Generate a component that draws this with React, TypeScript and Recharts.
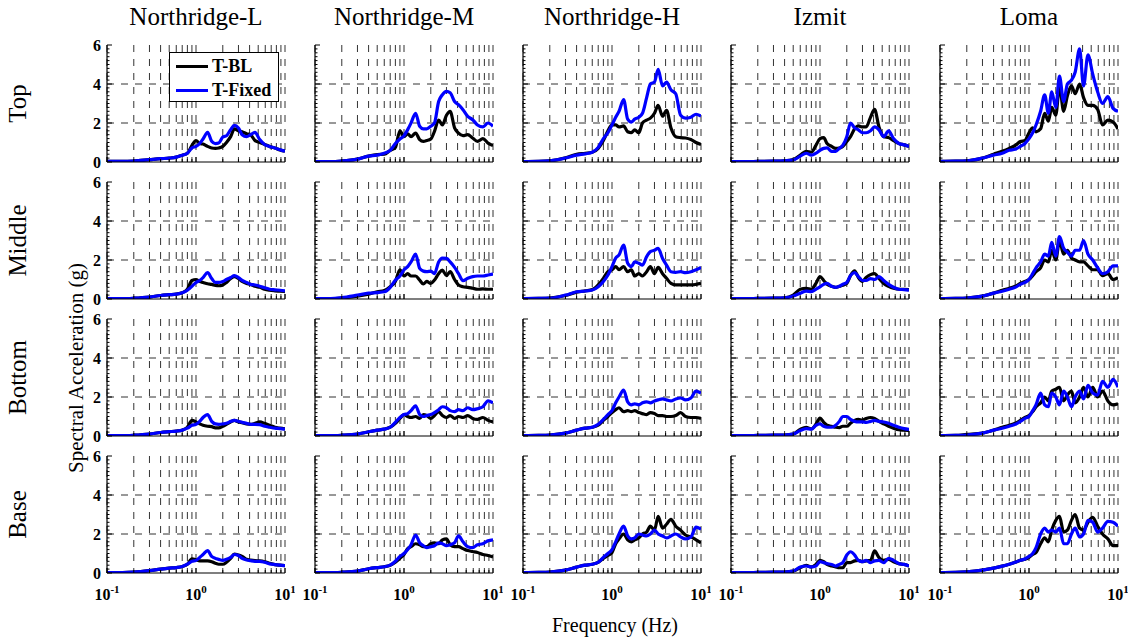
import React from 'react'
import { LineChart, Line, XAxis, YAxis, CartesianGrid } from 'recharts'

const FONT = '"Liberation Serif", "Times New Roman", Times, serif'

// frequency samples (Hz)
const FREQ = [0.1, 0.15, 0.2, 0.3, 0.4, 0.5, 0.6, 0.7, 0.8, 0.9, 1.0, 1.1, 1.2, 1.35, 1.5, 1.65, 1.8, 2.0, 2.2, 2.45, 2.7, 3.0, 3.3, 3.7, 4.1, 4.6, 5.2, 5.9, 6.7, 7.7, 8.8, 10]

const COLUMNS = ['Northridge-L', 'Northridge-M', 'Northridge-H', 'Izmit', 'Loma']
const ROWS = ['Top', 'Middle', 'Bottom', 'Base']
const SERIES = ['T-BL', 'T-Fixed']
const COLORS = ['#000000', '#0000ff']

const X_TICKS = [0.1, 0.2, 0.3, 0.4, 0.5, 0.6, 0.7, 0.8, 0.9, 1, 2, 3, 4, 5, 6, 7, 8, 9, 10]
const X_DECADES = [0.1, 1, 10]
const X_EXP = ['-1', '0', '1']
const Y_TICKS = [0, 0.2, 0.4, 0.6, 0.8, 1, 1.2, 1.4, 1.6, 1.8, 2, 2.2, 2.4, 2.6, 2.8, 3, 3.2, 3.4, 3.6, 3.8, 4, 4.2, 4.4, 4.6, 4.8, 5, 5.2, 5.4, 5.6, 5.8, 6]
const Y_MAJOR = [0, 2, 4, 6]
const GRID_Y = [2, 4]

// Top row
const topNL_BL = [0.03, 0.03, 0.05, 0.12, 0.17, 0.2, 0.25, 0.35, 0.45, 0.85, 1.1, 0.95, 0.92, 0.8, 0.72, 0.7, 0.72, 0.8, 1.0, 1.3, 1.7, 1.6, 1.55, 1.45, 1.4, 1.1, 1.0, 0.9, 0.8, 0.72, 0.62, 0.55]
const topNL_FX = [0.03, 0.03, 0.05, 0.12, 0.17, 0.2, 0.25, 0.35, 0.45, 0.72, 0.8, 0.95, 1.18, 1.52, 1.06, 0.94, 0.97, 1.28, 1.35, 1.66, 1.88, 1.74, 1.4, 1.3, 1.4, 1.52, 1.15, 0.9, 0.8, 0.72, 0.63, 0.55]
const topNM_BL = [0.02, 0.02, 0.05, 0.15, 0.3, 0.38, 0.4, 0.6, 0.75, 1.6, 1.3, 1.45, 1.3, 1.48, 1.15, 1.06, 1.1, 1.18, 1.57, 2.15, 1.9, 2.4, 2.6, 1.75, 1.48, 1.35, 1.4, 1.23, 1.06, 1.2, 0.97, 0.84]
const topNM_FX = [0.02, 0.02, 0.05, 0.15, 0.3, 0.35, 0.45, 0.6, 0.95, 1.18, 1.35, 1.66, 2.0, 2.5, 1.83, 1.7, 1.7, 1.83, 2.0, 3.1, 3.45, 3.62, 3.55, 3.1, 2.94, 2.68, 2.34, 2.17, 1.9, 1.8, 2.0, 1.83]
const topNH_BL = [0.02, 0.03, 0.06, 0.22, 0.4, 0.45, 0.5, 0.7, 1.1, 1.6, 1.9, 1.9, 1.8, 1.85, 1.55, 1.5, 1.65, 1.5, 2.0, 2.15, 2.25, 2.5, 2.9, 2.35, 2.65, 1.74, 1.3, 1.25, 1.23, 1.15, 1.0, 0.9]
const topNH_FX = [0.02, 0.03, 0.06, 0.2, 0.35, 0.42, 0.5, 0.75, 1.2, 1.5, 1.9, 2.3, 2.6, 3.2, 2.2, 2.05, 2.2, 2.3, 2.5, 3.3, 4.0, 4.1, 4.75, 3.9, 4.1, 3.7, 3.5, 2.4, 2.25, 2.3, 2.45, 2.35]
const topIZ_BL = [0.02, 0.02, 0.03, 0.04, 0.06, 0.12, 0.35, 0.55, 0.5, 0.85, 1.2, 1.25, 0.95, 0.8, 0.7, 0.72, 0.8, 1.05, 1.3, 1.7, 1.85, 1.8, 1.8, 2.3, 2.7, 1.8, 1.3, 1.25, 1.1, 0.95, 0.88, 0.8]
const topIZ_FX = [0.02, 0.02, 0.03, 0.04, 0.06, 0.1, 0.3, 0.45, 0.35, 0.45, 0.6, 0.7, 0.72, 0.55, 0.55, 0.7, 0.85, 1.3, 2.0, 1.75, 1.65, 1.5, 1.5, 1.6, 1.8, 1.65, 1.3, 1.6, 1.2, 0.95, 0.88, 0.8]
const topLO_BL = [0.03, 0.04, 0.06, 0.2, 0.4, 0.55, 0.7, 0.85, 1.05, 1.1, 1.5, 1.75, 1.55, 1.7, 2.5, 2.1, 2.8, 2.4, 3.9, 2.6, 3.4, 3.9, 3.5, 4.0, 3.3, 2.9, 2.9, 2.7, 1.9, 2.15, 2.05, 1.7]
const topLO_FX = [0.03, 0.04, 0.06, 0.2, 0.35, 0.45, 0.6, 0.65, 0.8, 0.95, 1.2, 1.5, 1.9, 2.6, 3.45, 2.5, 3.6, 2.8, 4.4, 3.1, 4.0, 4.2, 4.6, 5.8, 3.9, 5.5, 4.5, 3.6, 3.0, 3.35, 2.75, 2.6]

// Middle row
const midNL_BL = [0.02, 0.02, 0.04, 0.1, 0.18, 0.22, 0.25, 0.32, 0.5, 0.95, 1.0, 0.9, 0.85, 0.78, 0.75, 0.7, 0.68, 0.72, 0.85, 1.05, 1.15, 1.05, 0.9, 0.8, 0.75, 0.65, 0.6, 0.5, 0.45, 0.42, 0.4, 0.38]
const midNL_FX = [0.02, 0.02, 0.04, 0.1, 0.18, 0.22, 0.25, 0.32, 0.45, 0.65, 0.85, 0.95, 1.1, 1.35, 1.05, 0.85, 0.85, 0.9, 1.0, 1.1, 1.2, 1.1, 0.95, 0.85, 0.75, 0.72, 0.65, 0.58, 0.5, 0.47, 0.45, 0.42]
const midNM_BL = [0.02, 0.02, 0.05, 0.15, 0.25, 0.37, 0.43, 0.63, 0.9, 1.5, 1.18, 1.3, 1.18, 1.18, 0.97, 0.77, 0.9, 0.8, 0.97, 1.3, 1.48, 1.2, 1.4, 1.0, 0.72, 0.63, 0.6, 0.55, 0.5, 0.52, 0.5, 0.5]
const midNM_FX = [0.02, 0.02, 0.07, 0.2, 0.3, 0.33, 0.37, 0.6, 0.97, 1.18, 1.5, 1.66, 1.9, 2.3, 1.57, 1.43, 1.4, 1.43, 1.3, 1.9, 2.1, 2.08, 1.9, 1.62, 1.3, 0.94, 1.06, 1.15, 1.18, 1.18, 1.23, 1.28]
const midNH_BL = [0.02, 0.03, 0.05, 0.18, 0.35, 0.42, 0.48, 0.72, 1.06, 1.4, 1.5, 1.66, 1.5, 1.66, 1.4, 1.5, 1.18, 1.3, 1.18, 1.4, 1.66, 1.3, 1.62, 1.3, 1.06, 0.8, 0.72, 0.72, 0.72, 0.72, 0.75, 0.8]
const midNH_FX = [0.02, 0.03, 0.04, 0.2, 0.37, 0.41, 0.46, 0.63, 0.9, 1.23, 1.66, 2.1, 2.26, 2.77, 1.83, 1.66, 1.9, 1.83, 1.74, 2.17, 2.43, 2.5, 2.6, 2.08, 1.74, 1.4, 1.37, 1.4, 1.35, 1.4, 1.5, 1.62]
const midIZ_BL = [0.02, 0.02, 0.03, 0.04, 0.06, 0.2, 0.5, 0.55, 0.5, 0.8, 1.15, 0.95, 0.75, 0.65, 0.6, 0.65, 0.7, 0.8, 1.2, 1.45, 1.1, 0.9, 1.1, 1.25, 1.3, 1.05, 0.8, 0.65, 0.55, 0.5, 0.5, 0.48]
const midIZ_FX = [0.02, 0.02, 0.03, 0.04, 0.06, 0.15, 0.3, 0.4, 0.38, 0.5, 0.62, 0.75, 0.8, 0.65, 0.6, 0.65, 0.75, 0.85, 1.2, 1.35, 1.15, 0.95, 0.95, 1.05, 1.0, 1.15, 0.95, 0.75, 0.6, 0.5, 0.48, 0.45]
const midLO_BL = [0.02, 0.03, 0.05, 0.15, 0.3, 0.45, 0.55, 0.65, 0.8, 0.9, 1.0, 1.2, 1.4, 1.6, 2.0, 1.9, 2.5, 2.0, 3.0, 2.3, 2.5, 2.1, 2.0, 1.9, 1.9, 1.7, 1.5, 1.5, 1.2, 1.3, 1.0, 1.1]
const midLO_FX = [0.02, 0.03, 0.05, 0.15, 0.3, 0.4, 0.5, 0.6, 0.75, 0.85, 1.0, 1.3, 1.6, 1.9, 2.3, 2.2, 2.9, 2.2, 3.2, 2.6, 2.4, 2.2, 2.5, 2.5, 3.0, 2.3, 2.0, 1.6, 1.3, 1.4, 1.7, 1.7]

// Bottom row
const botNL_BL = [0.02, 0.02, 0.04, 0.1, 0.18, 0.22, 0.25, 0.3, 0.45, 0.8, 0.72, 0.62, 0.55, 0.5, 0.48, 0.42, 0.42, 0.5, 0.6, 0.72, 0.8, 0.72, 0.68, 0.62, 0.6, 0.65, 0.72, 0.65, 0.55, 0.45, 0.4, 0.36]
const botNL_FX = [0.02, 0.02, 0.04, 0.1, 0.18, 0.22, 0.25, 0.3, 0.4, 0.55, 0.6, 0.75, 0.95, 1.1, 0.75, 0.62, 0.6, 0.62, 0.65, 0.75, 0.8, 0.75, 0.7, 0.65, 0.6, 0.6, 0.58, 0.5, 0.45, 0.4, 0.38, 0.35]
const botNM_BL = [0.02, 0.02, 0.04, 0.1, 0.22, 0.3, 0.35, 0.45, 0.65, 0.9, 1.1, 1.0, 0.95, 1.0, 0.9, 1.1, 1.05, 0.9, 1.05, 1.25, 1.05, 0.95, 1.05, 0.9, 1.0, 0.95, 1.05, 0.9, 0.85, 0.95, 0.8, 0.72]
const botNM_FX = [0.02, 0.02, 0.04, 0.1, 0.22, 0.3, 0.35, 0.45, 0.7, 0.95, 1.1, 1.15, 1.3, 1.55, 1.1, 1.0, 1.05, 1.1, 1.2, 1.35, 1.5, 1.45, 1.3, 1.25, 1.35, 1.3, 1.45, 1.35, 1.4, 1.5, 1.8, 1.7]
const botNH_BL = [0.02, 0.03, 0.05, 0.15, 0.3, 0.4, 0.45, 0.55, 0.8, 1.0, 1.2, 1.35, 1.45, 1.25, 1.3, 1.25, 1.3, 1.2, 1.15, 1.1, 1.2, 1.15, 1.05, 1.05, 1.0, 1.0, 1.05, 1.2, 1.0, 0.95, 0.95, 0.9]
const botNH_FX = [0.02, 0.03, 0.05, 0.15, 0.3, 0.4, 0.45, 0.6, 0.85, 1.1, 1.3, 1.7, 2.0, 2.35, 1.75, 1.6, 1.65, 1.6, 1.7, 1.75, 1.7, 1.8, 1.85, 1.9, 1.85, 1.8, 1.9, 1.95, 1.85, 1.95, 2.3, 2.2]
const botIZ_BL = [0.02, 0.02, 0.03, 0.04, 0.05, 0.1, 0.34, 0.45, 0.36, 0.6, 0.92, 0.7, 0.55, 0.5, 0.45, 0.43, 0.5, 0.5, 0.65, 0.8, 0.85, 0.82, 0.9, 0.95, 0.9, 0.75, 0.62, 0.5, 0.4, 0.32, 0.3, 0.28]
const botIZ_FX = [0.02, 0.02, 0.03, 0.04, 0.05, 0.1, 0.28, 0.38, 0.35, 0.55, 0.62, 0.5, 0.45, 0.45, 0.55, 0.75, 1.0, 1.0, 0.85, 0.75, 0.72, 0.72, 0.7, 0.75, 0.8, 0.75, 0.72, 0.65, 0.55, 0.45, 0.38, 0.34]
const botLO_BL = [0.02, 0.03, 0.08, 0.15, 0.3, 0.45, 0.55, 0.65, 0.8, 0.95, 1.05, 1.25, 1.5, 1.7, 2.0, 1.8, 2.3, 2.4, 2.5, 1.8, 2.1, 2.3, 1.7, 2.0, 2.5, 2.0, 2.5, 2.0, 2.3, 1.8, 1.6, 1.65]
const botLO_FX = [0.02, 0.03, 0.05, 0.15, 0.3, 0.4, 0.5, 0.6, 0.75, 0.9, 1.0, 1.3, 1.6, 2.2, 1.6, 1.5, 2.2, 2.0, 1.6, 2.3, 2.0, 1.5, 2.0, 2.3, 1.9, 2.6, 2.2, 2.1, 2.8, 2.5, 2.9, 2.5]

// Base row
const basNL_BL = [0.02, 0.02, 0.04, 0.12, 0.2, 0.25, 0.28, 0.33, 0.45, 0.72, 0.68, 0.62, 0.62, 0.62, 0.58, 0.5, 0.45, 0.45, 0.55, 0.75, 0.97, 0.92, 0.85, 0.7, 0.66, 0.63, 0.62, 0.58, 0.5, 0.43, 0.4, 0.38]
const basNL_FX = [0.02, 0.02, 0.04, 0.12, 0.2, 0.25, 0.28, 0.33, 0.45, 0.6, 0.65, 0.8, 0.95, 1.15, 0.85, 0.75, 0.7, 0.65, 0.7, 0.8, 0.95, 0.9, 0.75, 0.67, 0.63, 0.6, 0.6, 0.55, 0.47, 0.43, 0.4, 0.38]
const basNM_BL = [0.02, 0.02, 0.04, 0.1, 0.22, 0.28, 0.32, 0.4, 0.55, 0.75, 0.95, 1.25, 1.35, 1.5, 1.45, 1.35, 1.35, 1.5, 1.55, 1.5, 1.7, 1.75, 1.45, 1.35, 1.35, 1.25, 1.15, 1.1, 1.05, 0.95, 0.9, 0.82]
const basNM_FX = [0.02, 0.02, 0.04, 0.1, 0.22, 0.28, 0.32, 0.4, 0.6, 0.85, 1.0, 1.2, 1.45, 1.95, 1.55, 1.4, 1.3, 1.35, 1.4, 1.55, 1.5, 1.4, 1.45, 1.55, 1.9, 1.6, 1.35, 1.3, 1.45, 1.5, 1.65, 1.7]
const basNH_BL = [0.02, 0.03, 0.05, 0.15, 0.3, 0.4, 0.45, 0.55, 0.75, 0.9, 1.05, 1.5, 1.75, 2.0, 1.7, 1.6, 1.7, 1.8, 2.0, 2.1, 2.4, 2.2, 2.9, 2.3, 2.5, 2.75, 2.4, 2.2, 1.95, 1.85, 1.7, 1.55]
const basNH_FX = [0.02, 0.03, 0.05, 0.15, 0.3, 0.4, 0.45, 0.55, 0.8, 1.0, 1.2, 1.6, 2.0, 2.4, 1.9, 1.75, 1.8, 2.0, 1.95, 1.9, 2.0, 2.2, 2.0, 1.9, 1.8, 1.9, 2.0, 1.85, 1.75, 1.85, 2.35, 2.25]
const basIZ_BL = [0.02, 0.02, 0.03, 0.04, 0.05, 0.1, 0.27, 0.39, 0.31, 0.44, 0.65, 0.58, 0.44, 0.36, 0.31, 0.27, 0.27, 0.53, 0.53, 0.62, 0.65, 0.58, 0.62, 0.65, 1.13, 0.79, 0.65, 0.7, 0.58, 0.48, 0.44, 0.36]
const basIZ_FX = [0.02, 0.02, 0.03, 0.04, 0.05, 0.1, 0.31, 0.36, 0.31, 0.36, 0.58, 0.53, 0.48, 0.44, 0.36, 0.44, 0.53, 0.92, 1.09, 0.92, 0.65, 0.58, 0.65, 0.53, 0.62, 0.65, 0.53, 0.75, 0.65, 0.48, 0.44, 0.36]
const basLO_BL = [0.02, 0.03, 0.06, 0.15, 0.25, 0.35, 0.45, 0.55, 0.65, 0.7, 0.8, 0.95, 1.05, 1.5, 1.8, 1.6, 2.2, 2.7, 2.9, 2.1, 2.2, 2.7, 3.0, 2.3, 2.2, 2.6, 2.85, 2.4, 2.0, 1.75, 1.4, 1.4]
const basLO_FX = [0.02, 0.03, 0.06, 0.15, 0.25, 0.35, 0.45, 0.55, 0.65, 0.72, 0.85, 1.0, 1.3, 2.0, 2.3, 2.1, 2.2, 2.1, 2.3, 1.5, 1.5, 2.0, 2.3, 1.85, 2.0, 2.7, 2.6, 2.1, 2.3, 2.65, 2.6, 2.4]

const PANELS = [
  [[topNL_BL, topNL_FX], [topNM_BL, topNM_FX], [topNH_BL, topNH_FX], [topIZ_BL, topIZ_FX], [topLO_BL, topLO_FX]],
  [[midNL_BL, midNL_FX], [midNM_BL, midNM_FX], [midNH_BL, midNH_FX], [midIZ_BL, midIZ_FX], [midLO_BL, midLO_FX]],
  [[botNL_BL, botNL_FX], [botNM_BL, botNM_FX], [botNH_BL, botNH_FX], [botIZ_BL, botIZ_FX], [botLO_BL, botLO_FX]],
  [[basNL_BL, basNL_FX], [basNM_BL, basNM_FX], [basNH_BL, basNH_FX], [basIZ_BL, basIZ_FX], [basLO_BL, basLO_FX]],
]

// layout (plot-area left/top edges in page pixels)
const COL_X = [107, 315, 523, 731, 940]
const ROW_Y = [45, 182, 319, 456]
const PW = 178
const PH = 117
const ML = 40
const MR = 10
const MT = 10
const MB = 40

function XTick(props: any) {
  const { x, y, payload, label, dir } = props
  const v = payload.value
  const k = X_DECADES.indexOf(v)
  const len = k >= 0 ? 5 : 3
  return (
    <g>
      <line x1={x} x2={x} y1={y} y2={y + dir * len} stroke="#000" strokeWidth={1} />
      {label && k >= 0 && (
        <text x={x} y={y + 27} textAnchor="middle" fontFamily={FONT} fontWeight="bold" fontSize={16} fill="#000">
          <tspan>10</tspan>
          <tspan dy={-7} fontSize={11}>{X_EXP[k]}</tspan>
        </text>
      )}
    </g>
  )
}

function YTick(props: any) {
  const { x, y, payload, label, dir } = props
  const v = payload.value
  const major = Y_MAJOR.includes(v)
  const len = major ? 5 : 2.5
  return (
    <g>
      <line x1={x} x2={x + dir * len} y1={y} y2={y} stroke="#000" strokeWidth={1} />
      {label && major && (
        <text x={x - 6} y={y + 5.5} textAnchor="end" fontFamily={FONT} fontWeight="bold" fontSize={16} fill="#000">
          {v}
        </text>
      )}
    </g>
  )
}

function Panel({ row, col }: { row: number; col: number }) {
  const [bl, fx] = PANELS[row][col]
  const data = FREQ.map((f, i) => ({ f, bl: bl[i], fx: fx[i] }))
  const showX = row === ROWS.length - 1
  const showY = col === 0
  return (
    <div style={{ position: 'absolute', left: COL_X[col] - ML, top: ROW_Y[row] - MT }}>
      <LineChart width={ML + PW + MR} height={MT + PH + MB} data={data} margin={{ top: MT, right: MR, bottom: 0, left: 0 }}>
        <CartesianGrid
          xAxisId="b"
          yAxisId="l"
          horizontalValues={GRID_Y}
          verticalValues={X_TICKS}
          stroke="#333"
          strokeWidth={1}
          strokeDasharray="7 7"
        />
        <XAxis
          xAxisId="b"
          dataKey="f"
          type="number"
          scale="log"
          domain={[0.1, 10]}
          allowDataOverflow
          ticks={X_TICKS}
          interval={0}
          height={MB}
          tickSize={0}
          tickMargin={0}
          tickLine={false}
          axisLine={{ stroke: '#000', strokeWidth: 1.2 }}
          tick={<XTick label={showX} dir={-1} />}
        />
        <XAxis
          xAxisId="t"
          orientation="top"
          dataKey="f"
          type="number"
          scale="log"
          domain={[0.1, 10]}
          allowDataOverflow
          ticks={X_TICKS}
          interval={0}
          height={0}
          tickSize={0}
          tickMargin={0}
          tickLine={false}
          axisLine={{ stroke: '#000', strokeWidth: 1.2 }}
          tick={<XTick label={false} dir={1} />}
        />
        <YAxis
          yAxisId="l"
          type="number"
          domain={[0, 6]}
          allowDataOverflow
          ticks={Y_TICKS}
          interval={0}
          width={ML}
          tickSize={0}
          tickMargin={0}
          tickLine={false}
          axisLine={{ stroke: '#000', strokeWidth: 1.2 }}
          tick={<YTick label={showY} dir={1} />}
        />
        <YAxis
          yAxisId="r"
          orientation="right"
          type="number"
          domain={[0, 6]}
          allowDataOverflow
          ticks={Y_TICKS}
          interval={0}
          width={0}
          tickSize={0}
          tickMargin={0}
          tickLine={false}
          axisLine={{ stroke: '#000', strokeWidth: 1.2 }}
          tick={<YTick label={false} dir={-1} />}
        />
        <Line xAxisId="b" yAxisId="l" type="monotone" dataKey="bl" stroke={COLORS[0]} strokeWidth={3.2} dot={false} isAnimationActive={false} />
        <Line xAxisId="b" yAxisId="l" type="monotone" dataKey="fx" stroke={COLORS[1]} strokeWidth={3.2} dot={false} isAnimationActive={false} />
      </LineChart>
    </div>
  )
}

export default function App() {
  return (
    <div style={{ position: 'absolute', left: 0, top: 0, width: 1129, height: 639, background: '#fff', overflow: 'hidden' }}>
      <svg width={1129} height={639} style={{ position: 'absolute', left: 0, top: 0 }}>
        {COLUMNS.map((c, i) => (
          <text key={c} x={COL_X[i] + PW / 2} y={25} textAnchor="middle" fontFamily={FONT} fontSize={25} fill="#000">
            {c}
          </text>
        ))}
        {ROWS.map((r, i) => {
          const cy = ROW_Y[i] + PH / 2
          return (
            <text key={r} x={26} y={cy} transform={`rotate(-90 26 ${cy})`} textAnchor="middle" fontFamily={FONT} fontSize={25} fill="#000">
              {r}
            </text>
          )
        })}
        <text x={83} y={368} transform="rotate(-90 83 368)" textAnchor="middle" fontFamily={FONT} fontSize={21} fill="#000">
          Spectral Acceleration (g)
        </text>
        <text x={615} y={632} textAnchor="middle" fontFamily={FONT} fontSize={20} fill="#000">
          Frequency (Hz)
        </text>
      </svg>

      {ROWS.map((_, r) => COLUMNS.map((_, c) => <Panel key={`${r}-${c}`} row={r} col={c} />))}

      {/* legend in the first panel */}
      <div
        style={{
          position: 'absolute',
          left: 169,
          top: 52,
          width: 110,
          height: 50,
          boxSizing: 'border-box',
          border: '1px solid #000',
          background: '#fff',
        }}
      >
        {SERIES.map((s, i) => (
          <div key={s} style={{ position: 'absolute', left: 6, top: 3 + i * 24, height: 20, display: 'flex', alignItems: 'center' }}>
            <span style={{ display: 'inline-block', width: 32, height: 3, background: COLORS[i] }} />
            <span style={{ marginLeft: 4, fontFamily: FONT, fontWeight: 'bold', fontSize: 18, color: '#000', lineHeight: '20px' }}>{s}</span>
          </div>
        ))}
      </div>
    </div>
  )
}
